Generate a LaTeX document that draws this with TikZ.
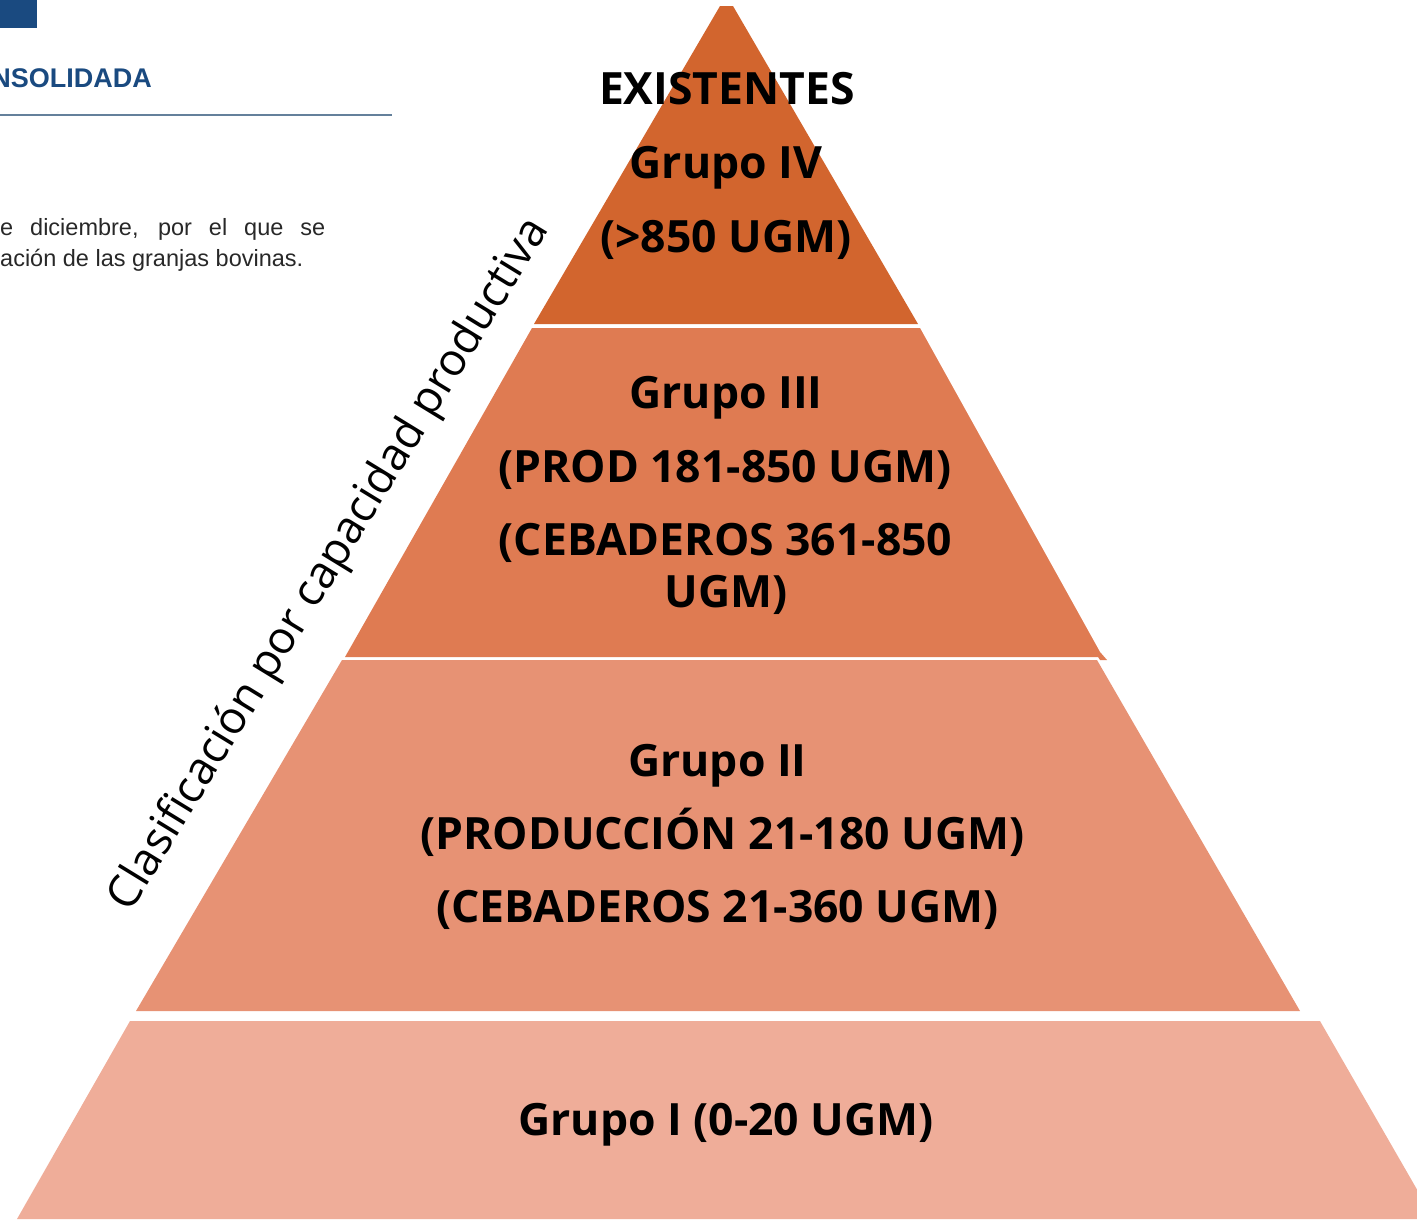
\documentclass[tikz,border=0pt]{standalone}
\usepackage{fontspec}
\setmainfont{Open Sans}
\newfontfamily\docfont{Liberation Sans}
\definecolor{tierIV}{RGB}{210,101,46}
\definecolor{tierIII}{RGB}{223,123,82}
\definecolor{tierII}{RGB}{231,146,116}
\definecolor{tierI}{RGB}{239,173,153}
\definecolor{docblue}{RGB}{26,74,128}
\definecolor{docline}{RGB}{100,128,155}
\definecolor{doctext}{RGB}{40,40,40}
\tikzset{
  lbl/.style={anchor=base, inner sep=0pt, font=\fontsize{44.5}{52}\selectfont\bfseries, text=black},
  side/.style={inner sep=0pt, font=\fontsize{45}{52}\selectfont, text=black},
  doc/.style={anchor=base west, inner sep=0pt, font=\docfont\fontsize{23.5}{28}\selectfont, text=doctext}
}
\begin{document}
\begin{tikzpicture}[x=1pt,y=-1pt]
\useasboundingbox (0,0) rectangle (1417,1219);
\begin{scope}
\clip (0,0) rectangle (1417,1219);
% document fragment
\fill[docblue] (0,0) rectangle (37,28);
\node[anchor=base east, inner sep=0pt, font=\docfont\bfseries\fontsize{27}{30}\selectfont, text=docblue] (title) at (152,87) {NSOLIDADA};
\draw[docline, line width=2pt] (0,115) -- (392,115);
\node[doc] (l1) at (0,235) {\makebox[325pt][s]{e diciembre, por el que se}};
\node[doc] (l2) at (0,266) {ación de las granjas bovinas.};
% pyramid tiers
\fill[tierI] (130,1021) -- (1320,1021) -- (1434,1219) -- (17,1219) -- cycle;
\fill[tierII] (342,660) -- (1097,660) -- (1300,1011) -- (136,1011) -- cycle;
\fill[tierIII] (532,328) -- (920,328) -- (1100,652) -- (1107,660) -- (1100,660) -- (1098,657) -- (345,657) -- cycle;
\fill[tierIV] (720,6) -- (733,6) -- (918,324) -- (534,324) -- cycle;
\end{scope}
% labels
\node[lbl] (ex) at (727,104) {EXISTENTES};
\node[lbl] (g4) at (726,178) {Grupo IV};
\node[lbl] (g4r) at (726,252) {(>850 UGM)};
\node[lbl] (g3) at (726,408) {Grupo III};
\node[lbl] (g3a) at (725,482) {(PROD 181-850 UGM)};
\node[lbl] (g3b) at (725.5,555) {(CEBADEROS 361-850};
\node[lbl] (g3c) at (726,607) {UGM)};
\node[lbl] (g2) at (717.5,776) {Grupo II};
\node[lbl] (g2a) at (722.5,849) {(PRODUCCIÓN 21-180 UGM)};
\node[lbl] (g2b) at (717.5,922) {(CEBADEROS 21-360 UGM)};
\node[lbl] (g1) at (726,1135) {Grupo I (0-20 UGM)};
\node[side, rotate=58.5] (axis) at (330,565) {Clasificación por capacidad productiva};
\end{tikzpicture}
\end{document}
